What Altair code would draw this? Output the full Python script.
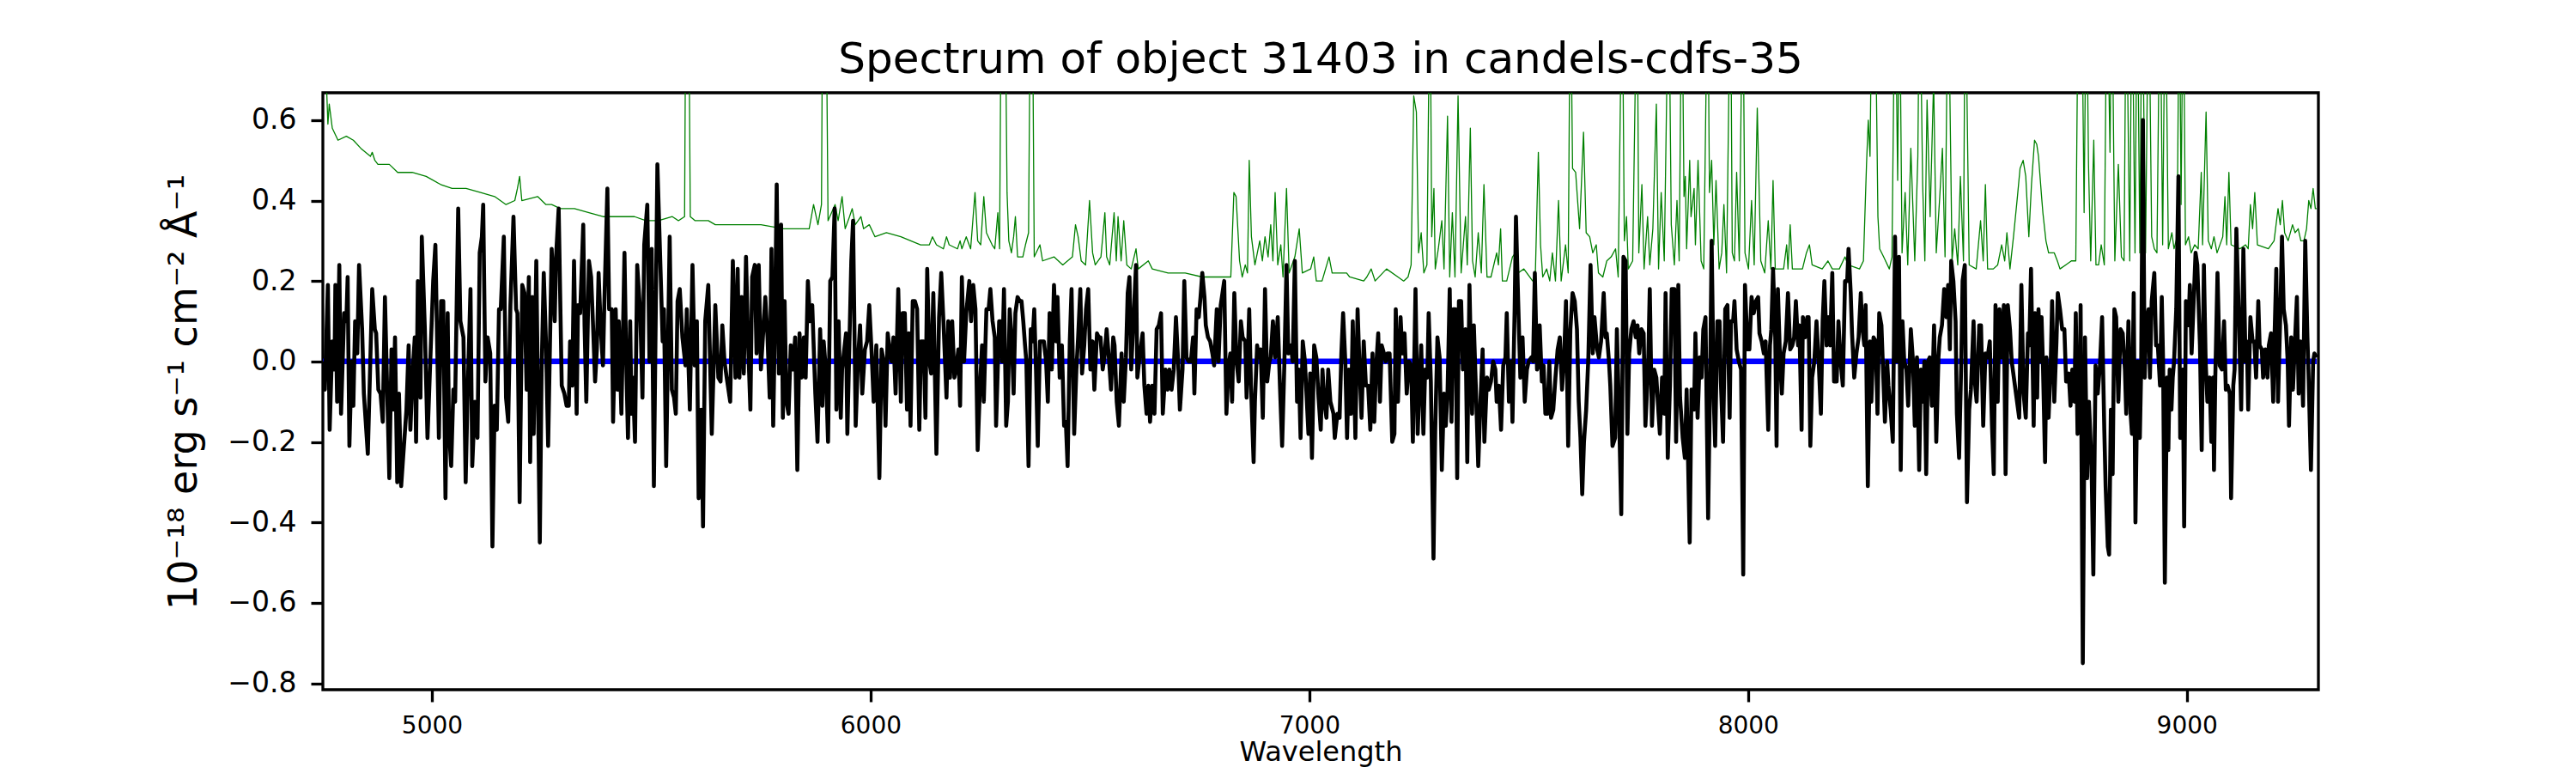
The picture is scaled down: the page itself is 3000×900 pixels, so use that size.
import altair as alt
import pandas as pd

TITLE = "Spectrum of object 31403 in candels-cdfs-35"
X_TITLE = "Wavelength"
Y_TITLE = "10\u207b\u00b9\u2078 erg s\u207b\u00b9 cm\u207b\u00b2 \u00c5\u207b\u00b9"
X_TICKS = [5000, 6000, 7000, 8000, 9000]
Y_TICKS = [-0.8, -0.6, -0.4, -0.2, 0.0, 0.2, 0.4, 0.6]

flux_a = [(4752,0.00),(4756,-0.07),(4763,0.19),(4767,-0.17),(4773,0.05),(4778,-0.02),(4780,0.19),(4784,-0.10),(4789,0.24),(4793,-0.13),(4800,0.12),(4805,0.10),(4808,0.21),(4812,-0.21),(4817,0.00),(4821,-0.11),(4825,0.10),(4830,0.02),(4834,0.24),(4841,0.08),(4845,-0.08),(4854,-0.23),(4864,0.18),(4870,0.08),(4873,0.07),(4878,-0.07),(4883,-0.08),(4888,-0.15),(4893,0.16),(4903,-0.29),(4908,0.03),(4912,-0.12),(4916,0.06),(4921,-0.30),(4925,-0.08),(4930,-0.31),(4935,-0.23),(4942,-0.12),(4947,0.04),(4951,-0.17),(4956,-0.03),(4961,0.06),(4964,-0.20),(4968,0.20),(4971,0.06),(4974,-0.09),(4977,0.31),(4984,0.08),(4990,-0.19),(4997,0.02),(5003,0.20),(5008,0.29),(5016,-0.19),(5021,0.15),(5026,0.15),(5031,-0.34),(5036,0.12),(5039,-0.17),(5044,-0.26),(5049,-0.07),(5053,-0.10),(5060,0.38),(5065,0.10),(5072,0.06),(5077,-0.30),(5081,-0.10),(5088,0.18),(5092,-0.26),(5098,-0.10),(5104,-0.19),(5109,0.27),(5114,0.31),(5117,0.39),(5122,-0.05),(5127,0.06),(5133,0.02),(5138,-0.46),(5143,-0.11),(5148,-0.17),(5153,0.13),(5157,0.13),(5164,0.31),(5169,-0.09),(5174,-0.15),(5179,0.14),(5186,0.36),(5192,0.13),(5195,0.12),(5200,-0.35),(5206,0.19),(5211,0.17),(5216,-0.07),(5221,0.21),(5224,-0.25),(5229,0.16),(5232,-0.18),(5238,0.25),(5246,-0.45),(5250,-0.03),(5255,0.22),(5260,0.05),(5265,-0.21),(5273,0.28),(5280,0.10),(5283,0.26),(5289,0.38),(5296,-0.06),(5302,-0.08),(5307,-0.11),(5312,-0.11),(5315,0.05),(5320,-0.06),(5324,0.25),(5330,-0.13),(5333,0.14),(5338,0.12),(5345,0.34),(5348,0.09),(5352,-0.10),(5358,0.25),(5363,0.21),(5367,0.10),(5372,-0.05),(5376,0.03),(5380,0.22),(5385,0.08),(5390,-0.01),(5393,0.14),(5400,0.43),(5404,0.13),(5410,0.13),(5413,-0.15),(5419,0.13),(5423,-0.07),(5426,0.10),(5432,-0.13),(5439,0.27),(5443,0.00),(5447,-0.19),(5452,0.10),(5455,-0.13),(5458,-0.04),(5463,-0.20),(5468,0.24),(5475,0.12),(5480,-0.09),(5484,0.29),(5491,0.39),(5496,0.00),(5501,0.28),(5506,-0.31),(5514,0.49)]
flux_b = [(5526,0.05),(5529,0.13),(5534,-0.26),(5542,0.31),(5547,-0.07),(5552,-0.09),(5556,-0.13),(5560,0.15),(5565,0.18),(5571,0.06),(5578,-0.01),(5581,0.13),(5588,-0.12),(5594,0.24),(5599,-0.01),(5604,0.10),(5608,-0.34),(5614,-0.12),(5618,-0.41),(5623,0.10),(5630,0.19),(5638,-0.18),(5646,0.14),(5653,-0.04),(5658,-0.05),(5662,0.09),(5667,0.00),(5672,-0.04),(5680,-0.10),(5686,0.25),(5692,-0.04),(5697,0.23),(5701,-0.04),(5706,0.16),(5711,-0.03),(5716,0.26),(5721,0.04),(5726,-0.12),(5730,0.21),(5736,0.24),(5740,0.02),(5745,0.24),(5750,-0.02),(5755,0.07),(5760,0.16),(5765,0.06),(5770,-0.09),(5774,0.28),(5778,-0.16),(5782,0.10),(5786,0.44),(5791,-0.03),(5796,0.34),(5800,-0.14),(5804,0.15),(5808,-0.10),(5813,-0.13),(5818,0.04),(5823,-0.02),(5828,0.06),(5833,-0.27),(5838,0.07),(5843,-0.04),(5848,0.06),(5852,-0.04),(5857,0.20),(5862,0.10),(5867,0.14),(5874,-0.08),(5879,-0.20),(5885,0.08),(5890,-0.11),(5893,0.05),(5898,-0.02),(5903,-0.20),(5908,0.20),(5913,0.21),(5918,0.38),(5922,-0.12),(5927,0.10),(5932,-0.14),(5935,-0.02),(5940,0.03),(5944,0.07),(5947,-0.18),(5952,0.06),(5956,0.25),(5960,0.35),(5966,-0.16),(5971,0.00),(5976,0.09),(5981,-0.08),(5987,0.03),(5992,0.05),(5997,0.14),(6002,0.03),(6007,-0.10),(6013,0.04),(6020,-0.29),(6025,0.03),(6030,0.00),(6034,-0.16),(6039,0.07),(6044,0.02),(6048,0.00),(6052,0.06),(6057,-0.08),(6063,0.18),(6069,-0.10),(6073,0.12),(6078,0.12),(6083,-0.12),(6087,0.07),(6091,-0.16),(6096,0.15),(6101,0.15),(6106,0.13),(6111,-0.17),(6115,0.05),(6121,0.05),(6125,-0.14),(6129,0.23),(6134,0.00),(6138,-0.03),(6143,0.17),(6150,-0.23),(6156,0.11),(6161,0.22),(6166,0.10),(6173,-0.09),(6177,0.10),(6181,-0.04),(6186,0.10),(6191,-0.04),(6195,-0.02),(6200,0.03),(6204,-0.11),(6208,0.21),(6213,0.00),(6218,0.12),(6225,0.20),(6229,0.10),(6234,0.19),(6239,0.13),(6244,-0.22),(6249,-0.07),(6254,0.04),(6258,-0.10),(6264,0.13),(6269,0.13),(6273,0.18),(6278,0.10),(6283,0.06),(6286,-0.16),(6293,0.10)]
flux_c = [(6296,0.10),(6300,0.00),(6304,0.18),(6309,-0.16),(6313,-0.10),(6317,0.13),(6322,0.05),(6326,-0.08),(6330,0.12),(6335,0.16),(6340,0.15),(6344,0.15),(6348,0.10),(6352,0.04),(6355,0.00),(6360,-0.26),(6365,0.08),(6369,0.05),(6373,0.13),(6377,-0.02),(6381,-0.21),(6386,0.05),(6390,0.05),(6395,0.05),(6400,0.00),(6404,-0.10),(6408,0.12),(6413,-0.02),(6418,0.19),(6423,0.05),(6426,0.16),(6431,-0.04),(6436,0.04),(6441,-0.16),(6445,-0.15),(6449,-0.26),(6454,0.05),(6458,0.18),(6464,-0.18),(6469,-0.02),(6473,0.06),(6478,0.18),(6482,-0.03),(6487,0.04),(6491,0.13),(6496,0.18),(6501,-0.02),(6506,0.05),(6510,-0.07),(6516,0.07),(6520,0.06),(6524,0.06),(6529,-0.02),(6533,0.01),(6538,0.08),(6543,0.01),(6548,-0.07),(6553,0.06),(6556,0.04),(6561,-0.10),(6566,-0.16),(6572,0.02),(6577,-0.10),(6582,0.01),(6586,0.17),(6590,0.21),(6594,-0.02),(6599,0.10),(6605,0.24),(6608,-0.04),(6613,0.01),(6620,0.07),(6624,-0.06),(6629,-0.13),(6633,-0.06),(6637,-0.15),(6642,-0.06),(6647,-0.13),(6652,0.08),(6657,0.09),(6662,0.12),(6666,-0.13),(6672,-0.02),(6677,-0.07),(6681,-0.02),(6686,-0.07),(6691,-0.02),(6696,0.11),(6701,0.00),(6705,-0.12),(6711,-0.02),(6715,0.20),(6720,0.01),(6725,0.00),(6730,0.00),(6735,0.06),(6738,-0.08),(6743,0.13),(6748,0.11),(6752,0.16),(6756,0.22),(6761,0.16),(6764,0.09),(6769,0.06),(6774,0.05),(6779,0.02),(6783,-0.01),(6789,0.13),(6793,0.00),(6798,0.14),(6802,0.17),(6806,0.20),(6811,-0.13),(6816,-0.01),(6820,0.02),(6824,-0.10),(6829,0.17),(6834,0.00),(6839,-0.05),(6844,0.10),(6848,0.06),(6854,0.05),(6857,-0.09),(6863,0.13),(6867,-0.06),(6873,-0.25),(6876,-0.10),(6881,0.04),(6885,0.01),(6889,0.03),(6894,-0.14),(6899,0.18),(6904,-0.05),(6909,0.00),(6912,0.01),(6917,0.10),(6922,0.01),(6925,0.06),(6928,0.11),(6933,-0.06),(6938,-0.21),(6943,-0.01),(6948,0.24),(6952,0.02),(6958,0.04),(6962,0.00),(6967,0.25),(6972,-0.10),(6976,-0.02),(6980,-0.19),(6985,0.05),(6990,0.00),(6993,-0.07),(6998,-0.18),(7002,-0.03),(7006,-0.24),(7011,0.04),(7016,0.01),(7021,-0.09),(7026,-0.17),(7030,-0.02),(7034,-0.10),(7039,-0.14),(7043,-0.02),(7048,-0.10),(7055,-0.13),(7058,-0.19)]
flux_d = [(7064,-0.13),(7069,-0.14),(7073,0.02),(7077,0.12),(7082,0.00),(7086,-0.19),(7090,-0.02),(7095,-0.13),(7099,0.10),(7105,-0.19),(7110,0.13),(7114,0.00),(7119,-0.14),(7124,0.05),(7129,-0.06),(7134,-0.06),(7139,-0.17),(7144,0.02),(7148,-0.15),(7152,-0.02),(7157,0.07),(7161,-0.10),(7165,0.04),(7170,0.02),(7174,0.00),(7178,0.02),(7183,0.02),(7189,-0.20),(7194,-0.18),(7197,0.13),(7202,-0.10),(7208,0.11),(7212,0.02),(7217,0.07),(7222,-0.08),(7227,0.00),(7232,-0.01),(7236,-0.20),(7242,0.18),(7247,-0.18),(7251,-0.06),(7255,0.04),(7260,-0.18),(7264,-0.02),(7269,-0.04),(7272,0.12),(7277,-0.05),(7283,-0.49),(7287,-0.17),(7292,0.06),(7297,0.01),(7302,-0.27),(7307,-0.08),(7311,-0.16),(7315,-0.08),(7320,0.18),(7324,-0.15),(7328,0.13),(7333,0.13),(7337,-0.29),(7341,0.15),(7346,0.15),(7350,-0.02),(7356,0.08),(7360,-0.25),(7365,0.19),(7371,-0.13),(7375,0.09),(7380,-0.08),(7385,-0.26),(7390,-0.10),(7395,0.03),(7399,-0.20),(7405,-0.04),(7409,-0.07),(7414,-0.05),(7419,0.00),(7424,-0.02),(7427,-0.10),(7432,-0.06),(7437,-0.17),(7442,-0.01),(7447,0.01),(7450,0.12),(7455,-0.10),(7460,0.00),(7463,-0.15),(7468,0.13),(7471,0.36),(7476,0.15),(7481,-0.04),(7486,0.06),(7491,-0.10),(7496,-0.02),(7500,0.00),(7506,0.01),(7510,0.00),(7514,0.22),(7519,-0.02),(7522,-0.01),(7525,0.09),(7530,-0.05),(7534,-0.01),(7538,-0.13),(7543,-0.13),(7547,0.00),(7551,-0.14),(7556,-0.12),(7561,-0.04),(7566,0.03),(7571,0.06),(7576,-0.07),(7581,0.02),(7585,0.15),(7590,-0.21),(7595,0.08),(7600,0.17),(7605,0.15),(7610,0.08),(7614,-0.10),(7618,-0.19),(7622,-0.33),(7626,-0.20),(7631,-0.12),(7636,0.01),(7641,0.24),(7646,0.02),(7650,0.11),(7656,0.03),(7660,0.01),(7665,0.05),(7671,0.17),(7675,0.06),(7678,0.07),(7683,0.00),(7686,-0.06),(7691,-0.21),(7697,-0.19),(7701,0.08),(7706,-0.13),(7711,-0.38),(7716,0.26),(7721,0.25),(7725,-0.18),(7729,0.02),(7734,0.08),(7739,0.10),(7744,0.06),(7748,0.09),(7752,0.02),(7757,0.08),(7762,0.07),(7766,-0.16),(7772,-0.02),(7776,0.18),(7781,-0.16),(7786,-0.02),(7791,-0.04),(7796,-0.13),(7799,-0.18),(7804,-0.04),(7809,-0.13),(7812,0.17),(7817,-0.24),(7822,-0.06),(7826,0.18),(7832,0.18)]
flux_e = [(7836,-0.20),(7841,0.19),(7845,-0.09),(7851,-0.19),(7856,-0.24),(7860,-0.07),(7867,-0.45),(7871,-0.07),(7877,-0.12),(7880,0.07),(7885,-0.14),(7890,0.01),(7894,-0.04),(7898,0.08),(7903,0.11),(7909,-0.39),(7914,0.00),(7917,0.30),(7922,-0.10),(7925,-0.21),(7930,0.10),(7935,0.10),(7938,-0.05),(7943,-0.20),(7948,0.13),(7953,0.14),(7958,-0.14),(7961,0.10),(7966,0.10),(7969,0.15),(7974,0.03),(7979,0.00),(7984,-0.02),(7989,-0.53),(7993,0.19),(7999,0.03),(8003,0.03),(8008,0.16),(8013,0.12),(8018,0.15),(8023,0.16),(8026,0.07),(8031,0.05),(8036,0.02),(8040,0.05),(8046,-0.17),(8050,0.04),(8053,0.08),(8057,0.23),(8062,0.06),(8065,-0.21),(8068,0.18),(8073,0.00),(8077,-0.08),(8081,0.02),(8086,0.05),(8091,0.17),(8096,0.03),(8101,0.04),(8105,0.06),(8109,0.15),(8114,0.04),(8117,0.09),(8122,-0.17),(8125,0.11),(8130,0.06),(8135,0.11),(8138,0.11),(8142,-0.21),(8146,-0.04),(8151,0.00),(8156,0.10),(8161,0.00),(8166,-0.13),(8170,0.10),(8174,0.20),(8179,0.04),(8183,0.11),(8187,0.04),(8192,0.22),(8196,-0.05),(8202,-0.05),(8206,0.10),(8211,0.00),(8216,-0.06),(8221,0.20),(8226,0.20),(8229,0.28),(8234,0.17),(8237,0.07),(8242,-0.04),(8247,0.02),(8252,0.06),(8257,0.17),(8260,0.09),(8265,0.04),(8268,0.14),(8273,-0.31),(8278,0.05),(8281,-0.10),(8286,0.06),(8291,0.05),(8295,-0.13),(8299,0.12),(8304,0.09),(8307,0.00),(8312,-0.15),(8317,0.00),(8320,-0.06),(8325,-0.12),(8330,-0.20),(8335,0.31),(8339,0.00),(8344,0.26),(8348,-0.27),(8352,0.10),(8356,0.00),(8361,-0.02),(8365,-0.11),(8371,0.08),(8376,0.00),(8380,-0.16),(8385,0.01),(8390,-0.27),(8394,-0.02),(8398,-0.10),(8402,0.00),(8406,-0.28),(8410,0.00),(8414,0.01),(8419,-0.11),(8424,0.09),(8429,-0.20),(8434,0.01),(8437,0.06),(8442,0.09),(8447,0.18),(8452,0.11),(8456,0.19),(8460,0.03),(8463,0.25),(8468,0.20),(8473,0.10),(8476,-0.13),(8481,-0.24),(8486,0.00),(8489,0.20),(8494,0.24),(8499,-0.35),(8504,-0.12),(8508,-0.07),(8514,0.10),(8517,-0.05),(8521,-0.10),(8527,0.09),(8531,0.09),(8536,-0.16),(8541,0.02),(8546,0.01),(8551,0.05),(8556,-0.16),(8560,-0.28),(8564,0.14),(8569,-0.10),(8573,0.13),(8578,0.01),(8583,0.14),(8587,-0.28),(8592,0.14),(8597,0.08),(8601,0.00)]
flux_f = [(8618,-0.14),(8623,0.19),(8628,-0.08),(8633,-0.14),(8638,0.07),(8641,0.04),(8645,0.23),(8651,-0.16),(8654,0.12),(8659,-0.09),(8662,0.13),(8666,0.00),(8669,0.11),(8672,0.00),(8677,-0.25),(8680,0.01),(8685,-0.14),(8690,0.00),(8693,0.15),(8698,-0.10),(8703,0.05),(8706,0.17),(8711,0.13),(8716,0.08),(8721,0.08),(8725,-0.05),(8731,-0.03),(8735,-0.11),(8739,-0.02),(8744,-0.10),(8747,0.12),(8751,-0.18),(8756,-0.08),(8758,0.14),(8763,-0.75),(8768,0.06),(8773,-0.29),(8777,-0.10),(8783,-0.26),(8787,-0.53),(8792,-0.01),(8797,-0.08),(8802,-0.01),(8807,0.11),(8812,-0.17),(8815,-0.31),(8820,-0.46),(8823,-0.48),(8827,-0.12),(8831,-0.28),(8835,0.13),(8839,0.11),(8844,-0.10),(8849,0.08),(8854,0.07),(8859,-0.02),(8862,-0.13),(8867,0.10),(8872,-0.13),(8875,-0.18),(8879,0.17),(8883,-0.40),(8888,0.00),(8893,-0.19),(8896,-0.02),(8900,0.60),(8904,-0.04),(8908,0.10),(8913,0.13),(8916,-0.04),(8920,0.15),(8926,0.22),(8930,0.04),(8934,0.04),(8939,-0.06),(8943,0.16),(8946,0.00),(8950,-0.55),(8955,-0.04),(8958,-0.22),(8961,-0.02),(8965,-0.12),(8968,-0.04),(8971,0.00),(8976,0.13),(8981,0.46),(8985,-0.19),(8991,-0.02),(8994,-0.41),(8998,0.15),(9004,0.09),(9007,0.19),(9011,0.02),(9015,0.13),(9020,0.27),(9024,0.24),(9030,0.04),(9034,-0.22),(9039,0.24),(9043,0.00),(9047,-0.10),(9052,-0.04),(9056,-0.20),(9060,-0.04),(9062,-0.27),(9065,-0.04),(9070,0.22),(9075,-0.01),(9080,-0.02),(9085,0.10),(9089,-0.07),(9093,-0.06),(9098,-0.08),(9101,-0.34),(9106,-0.06),(9109,-0.02),(9113,0.33),(9119,0.10),(9124,-0.12),(9129,0.28),(9134,0.00),(9137,0.05),(9140,-0.12),(9145,0.11),(9150,0.05),(9154,0.05),(9158,-0.04),(9163,0.15),(9166,0.04),(9171,0.03),(9174,-0.04),(9179,0.03),(9184,-0.04),(9187,0.04),(9192,0.07),(9197,-0.10),(9200,0.06),(9204,0.23),(9208,-0.10),(9213,0.11),(9217,0.31),(9221,0.13),(9226,0.09),(9230,0.00),(9233,-0.16),(9238,0.06),(9242,-0.07),(9247,0.06),(9251,0.16),(9255,-0.08),(9259,0.05),(9262,0.00),(9265,-0.11),(9270,0.30),(9275,0.06),(9278,-0.05),(9283,-0.27),(9288,0.00),(9291,0.02),(9296,0.01)]

# noise / sky spectrum (green), spikes beyond the frame are clipped
err_a = [(4752,0.75),(4756,0.80),(4763,0.59),(4766,0.64),(4773,0.58),(4786,0.55),(4805,0.56),(4821,0.55),(4838,0.53),(4860,0.51),(4864,0.52),(4870,0.50),(4877,0.49),(4903,0.49),(4922,0.47),(4955,0.47),(4987,0.46),(5020,0.44),(5046,0.43),(5078,0.43),(5111,0.42),(5143,0.41),(5169,0.39),(5189,0.40),(5195,0.43),(5200,0.46),(5205,0.40),(5241,0.41),(5260,0.39),(5273,0.39),(5293,0.38),(5325,0.38),(5358,0.37),(5390,0.36),(5423,0.36),(5462,0.36),(5488,0.35)]
err_b = [(5516,0.35),(5548,0.36),(5562,0.35),(5576,0.36),(5579,1.0),(5585,1.0),(5589,0.36),(5600,0.35),(5630,0.35),(5646,0.34),(5698,0.34),(5750,0.34),(5802,0.33),(5834,0.33),(5860,0.33),(5870,0.39),(5880,0.34),(5888,0.39),(5891,1.0),(5898,1.0),(5903,0.35),(5919,0.39),(5926,0.35),(5935,0.41),(5942,0.33),(5952,0.36),(5958,0.38),(5965,0.34),(5978,0.36),(5984,0.33),(5997,0.34),(6010,0.31),(6036,0.32),(6069,0.31),(6114,0.29),(6134,0.29),(6141,0.31),(6150,0.29),(6166,0.28),(6173,0.31),(6179,0.29),(6198,0.28),(6204,0.30),(6208,0.28),(6218,0.31),(6228,0.28),(6238,0.42),(6244,0.30),(6251,0.29),(6258,0.41),(6264,0.32),(6277,0.29),(6283,0.28),(6290,0.37)]
err_c = [(6294,0.28),(6298,1.0),(6306,1.0),(6311,0.42),(6315,0.30),(6321,0.27),(6326,0.31),(6330,0.36),(6335,0.26),(6347,0.26),(6353,0.29),(6360,0.32),(6364,0.9),(6369,0.9),(6373,0.26),(6386,0.29),(6392,0.25),(6418,0.26),(6438,0.24),(6460,0.26),(6467,0.34),(6473,0.31),(6480,0.25),(6490,0.24),(6499,0.40),(6506,0.27),(6512,0.24),(6525,0.26),(6534,0.37),(6538,0.26),(6545,0.24),(6555,0.37),(6560,0.25),(6564,0.36),(6571,0.25),(6577,0.35),(6584,0.24),(6594,0.23),(6605,0.28),(6610,0.23),(6633,0.25),(6642,0.23),(6678,0.22),(6717,0.22),(6756,0.21),(6821,0.21),(6828,0.42),(6833,0.41),(6841,0.25),(6847,0.21),(6854,0.24),(6859,0.22),(6863,0.50),(6868,0.31),(6876,0.24),(6887,0.30),(6893,0.25),(6899,0.31),(6906,0.26),(6912,0.34),(6917,0.25),(6922,0.42),(6928,0.24),(6935,0.29),(6940,0.21),(6948,0.43),(6954,0.22),(6967,0.26),(6977,0.33),(6984,0.22),(7003,0.23),(7010,0.26),(7016,0.20),(7029,0.20),(7045,0.26),(7052,0.22),(7062,0.22)]
err_d = [(7072,0.22),(7085,0.22),(7092,0.21),(7124,0.20),(7131,0.21),(7141,0.23),(7150,0.20),(7176,0.23),(7202,0.21),(7215,0.20),(7225,0.21),(7232,0.24),(7238,0.66),(7244,0.62),(7249,0.27),(7255,0.32),(7261,0.22),(7268,0.24),(7275,1.0),(7279,0.31),(7284,0.43),(7287,0.23),(7294,0.28),(7302,0.35),(7307,0.23),(7315,0.61),(7320,0.21),(7326,0.37),(7332,0.21),(7339,0.66),(7346,0.22),(7356,0.36),(7360,0.24),(7367,0.58),(7372,0.25),(7378,0.21),(7385,0.32),(7392,0.22),(7398,0.44),(7405,0.21),(7414,0.21),(7427,0.27),(7431,0.24),(7436,0.33),(7440,0.20),(7450,0.20),(7463,0.26),(7470,0.27),(7476,0.22),(7489,0.23),(7509,0.20),(7515,0.21),(7522,0.52),(7527,0.29),(7532,0.21),(7541,0.23),(7548,0.20),(7554,0.27),(7561,0.20),(7568,0.40),(7574,0.20),(7584,0.29),(7590,0.22),(7595,1.0),(7600,0.48),(7607,0.47),(7616,0.33),(7625,0.57),(7631,0.32),(7639,0.31),(7646,0.27),(7654,0.29),(7659,0.22),(7669,0.21),(7678,0.25),(7688,0.26),(7698,0.28),(7704,0.21),(7713,1.0),(7718,0.30),(7723,0.36),(7727,0.23),(7737,0.25),(7747,1.0),(7751,0.27),(7758,0.44),(7763,0.23),(7771,0.36),(7776,0.24),(7783,0.33),(7791,0.64),(7796,0.23),(7802,0.42),(7809,0.25),(7819,1.0),(7825,0.34),(7832,0.24)]
err_e = [(7838,0.40),(7843,0.25),(7849,1.0),(7854,0.41),(7857,0.46),(7860,0.28),(7867,0.50),(7870,0.36),(7877,0.43),(7880,0.29),(7886,0.50),(7893,0.25),(7899,0.23),(7908,1.0),(7912,0.42),(7917,0.50),(7922,0.29),(7927,0.45),(7934,0.23),(7940,0.27),(7945,0.39),(7951,0.22),(7960,1.0),(7964,0.27),(7969,0.25),(7974,0.47),(7980,0.25),(7988,1.0),(7993,0.27),(8001,0.23),(8008,0.40),(8014,0.24),(8021,0.63),(8029,0.25),(8038,0.22),(8046,0.35),(8052,0.23),(8057,0.45),(8062,0.23),(8081,0.23),(8088,0.29),(8091,0.23),(8096,0.34),(8101,0.23),(8124,0.23),(8133,0.27),(8140,0.29),(8146,0.24),(8169,0.23),(8182,0.25),(8192,0.23),(8208,0.23),(8221,0.26),(8228,0.24),(8254,0.23),(8263,0.25),(8270,0.49),(8274,0.60),(8278,0.51),(8283,1.0),(8289,1.0),(8296,0.36),(8300,0.28),(8309,0.26),(8322,0.23),(8328,0.26),(8335,1.0),(8341,0.45),(8345,1.0),(8351,0.27),(8358,0.42),(8364,0.24),(8371,0.53),(8380,0.25),(8387,0.51),(8391,1.0),(8398,0.44),(8403,0.25),(8408,0.65),(8415,0.36),(8423,0.70),(8429,0.27),(8437,0.41),(8443,0.53),(8449,0.26),(8456,1.0),(8465,0.25),(8471,0.33),(8478,0.24),(8484,0.46),(8491,0.25),(8495,1.0),(8504,0.24),(8520,0.23),(8530,0.35),(8536,0.25),(8541,0.44),(8546,0.23),(8559,0.23),(8569,0.24),(8578,0.29),(8585,0.25),(8590,0.32),(8597,0.23),(8605,0.31)]
err_f = [(8614,0.41),(8620,0.48),(8627,0.50),(8633,0.46),(8640,0.31),(8646,0.44),(8653,0.55),(8658,0.54),(8662,0.51),(8669,0.41),(8672,0.37),(8679,0.30),(8685,0.27),(8698,0.27),(8705,0.25),(8711,0.23),(8724,0.24),(8737,0.25),(8747,0.25),(8753,1.0),(8760,1.0),(8766,0.37),(8771,1.0),(8776,0.49),(8781,0.25),(8788,0.55),(8793,0.24),(8799,0.24),(8805,0.29),(8812,0.24),(8818,1.0),(8825,0.52),(8829,1.0),(8836,0.25),(8844,0.49),(8851,0.26),(8857,0.25),(8862,1.0),(8870,0.25),(8875,1.0),(8882,0.27),(8887,1.0),(8893,0.27),(8898,1.0),(8906,0.27),(8913,1.0),(8920,0.31),(8926,0.28),(8932,0.27),(8939,1.0),(8945,0.29),(8951,1.0),(8958,0.28),(8966,0.32),(8971,0.28),(8978,0.31),(8983,1.0),(8987,0.39),(8992,1.0),(8997,0.29),(9004,0.31),(9010,0.27),(9018,0.29),(9026,0.28),(9033,0.47),(9036,0.29),(9044,0.62),(9049,0.30),(9056,0.28),(9062,0.31),(9069,0.27),(9082,0.31),(9087,0.41),(9091,0.29),(9096,0.47),(9101,0.29),(9121,0.28),(9134,0.29),(9140,0.28),(9145,0.39),(9150,0.33),(9155,0.42),(9161,0.29),(9186,0.28),(9199,0.30),(9208,0.38),(9213,0.34),(9218,0.40),(9223,0.32),(9231,0.30),(9241,0.34),(9247,0.32),(9254,0.33),(9260,0.30),(9267,0.30),(9273,0.33),(9278,0.40),(9283,0.38),(9288,0.43),(9293,0.38),(9296,0.38)]

# model (blue)
model = [(4752, 0.0), (9296, 0.0)]


def frame(parts):
    rows = [pt for part in parts for pt in part]
    return pd.DataFrame(rows, columns=["wavelength", "value"])


flux_df = frame([flux_a, flux_b, flux_c, flux_d, flux_e, flux_f])
err_df = frame([err_a, err_b, err_c, err_d, err_e, err_f])
model_df = frame([model])

FONT = "DejaVu Sans"
x_scale = alt.Scale(domain=[4751.5, 9300], nice=False, zero=False)
y_scale = alt.Scale(domain=[-0.816, 0.668], nice=False, zero=False)

x_axis = alt.Axis(
    values=X_TICKS, format="d", title=X_TITLE, grid=False, domain=False,
    tickSize=14, tickWidth=3.3, tickColor="black",
    labelFont=FONT, labelFontSize=28, labelColor="black", labelPadding=14,
    labelFlush=False, labelOverlap=False,
    titleFont=FONT, titleFontSize=32, titleFontWeight="normal", titleColor="black",
    titleBaseline="alphabetic", titleAlign="center", titleX=1162, titleY=82,
)
y_axis = alt.Axis(
    values=Y_TICKS, format=".1f", title=Y_TITLE, grid=False, domain=False,
    tickSize=14, tickWidth=3.3, tickColor="black",
    labelFont=FONT, labelFontSize=33, labelColor="black", labelPadding=17,
    labelOverlap=False,
    titleFont=FONT, titleFontSize=46, titleFontWeight="normal", titleColor="black",
    titleAngle=270, titleBaseline="alphabetic", titleAlign="center",
    titleX=-148, titleY=348,
)

x_enc = alt.X("wavelength:Q", scale=x_scale, axis=x_axis)
y_enc = alt.Y("value:Q", scale=y_scale, axis=y_axis)

err_line = alt.Chart(err_df).mark_line(
    color="#008000", strokeWidth=1.3, clip=True, strokeJoin="round"
).encode(x=x_enc, y=y_enc, order="wavelength:Q")

model_line = alt.Chart(model_df).mark_line(
    color="#0000ff", strokeWidth=6.5, clip=True
).encode(x=x_enc, y=y_enc)

flux_line = alt.Chart(flux_df).mark_line(
    color="#000000", strokeWidth=4.6, clip=True, strokeJoin="round"
).encode(x=x_enc, y=y_enc, order="wavelength:Q")

chart = alt.layer(err_line, model_line, flux_line).properties(
    width=2324,
    height=695,
    title=alt.TitleParams(
        TITLE, font=FONT, fontSize=50, fontWeight="normal", color="black",
        anchor="middle", frame="group", offset=-27, baseline="alphabetic",
    ),
    padding={"left": 368, "top": 100, "right": 200, "bottom": 92},
    autosize=alt.AutoSizeParams(type="none"),
).configure_view(
    stroke="black", strokeWidth=3.3
)

chart.save("out.html", embed_options={"renderer": "svg", "actions": False})
